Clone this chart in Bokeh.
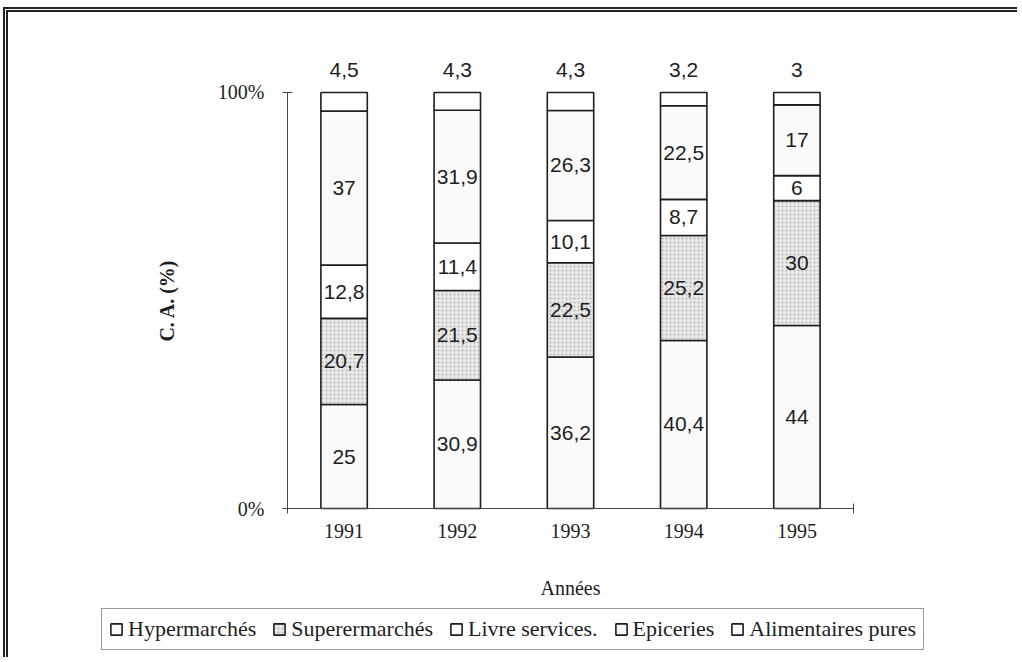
from bokeh.plotting import figure
from bokeh.models import ColumnDataSource, FixedTicker, Legend, LegendItem, InlineStyleSheet
from bokeh.core.properties import value
from bokeh.embed import file_html
from bokeh.resources import INLINE

years = ["1991", "1992", "1993", "1994", "1995"]
series = ["Hypermarchés", "Superermarchés", "Livre services.", "Epiceries", "Alimentaires pures"]
hyper = [25, 30.9, 36.2, 40.4, 44]
supermarches = [20.7, 21.5, 22.5, 25.2, 30]
livre = [12.8, 11.4, 10.1, 8.7, 6]
epiceries = [37, 31.9, 26.3, 22.5, 17]
alimentaires = [4.5, 4.3, 4.3, 3.2, 3]

all_vals = [hyper, supermarches, livre, epiceries, alimentaires]
fills = ["#fafafa", "#e8e8e8", "#ffffff", "#fafafa", "#ffffff"]
hatches = [" ", "dot", " ", " ", " "]
hatch_scales = [12, 4, 12, 12, 12]
hatch_colors = ["#e4e4e4", "#b4b4b4", "#e4e4e4", "#e4e4e4", "#e4e4e4"]

SERIF = "Liberation Serif"
SANS = "Liberation Sans"


def fmt(v):
    return f"{v:g}".replace(".", ",")


xs = [i + 0.5 for i in range(len(years))]
totals = [sum(vals[i] for vals in all_vals) for i in range(len(years))]

p = figure(width=1014, height=650, x_range=(-1.643, 5.689), y_range=(-34.6, 112.0),
           output_backend="svg", toolbar_location=None,
           min_border_left=93, min_border_right=91,
           min_border_top=30, min_border_bottom=10)
p.styles = {"margin-left": "3px", "margin-top": "7px",
            "border-left": "5px double #222", "border-top": "5px double #222"}
p.stylesheets = [InlineStyleSheet(css=(
    'text:not([font-family="Liberation Sans"]) '
    '{ font-family: "Liberation Serif", serif !important; }'))]
p.outline_line_color = None
p.grid.visible = False

bottoms = [0.0] * len(years)
items = []
for k, (name, vals) in enumerate(zip(series, all_vals)):
    pct = [v / t * 100 for v, t in zip(vals, totals)]
    tops = [b + q for b, q in zip(bottoms, pct)]
    mids = [(b + t) / 2 for b, t in zip(bottoms, tops)]
    src = ColumnDataSource(dict(x=xs, bottom=list(bottoms), top=tops, mid=mids,
                                lab=[fmt(v) for v in vals]))
    r = p.vbar(x="x", width=0.41, bottom="bottom", top="top", source=src,
               fill_color=fills[k], line_color="#1e1e1e", line_width=1.6,
               hatch_pattern=hatches[k], hatch_scale=hatch_scales[k],
               hatch_color=hatch_colors[k], hatch_weight=1.0)
    items.append(LegendItem(label=name, renderers=[r]))
    if k < len(series) - 1:
        p.text(x="x", y="mid", text="lab", source=src, text_font=value(SANS),
               text_font_size="21px", text_align="center", text_baseline="middle",
               text_color="#1e1e1e")
    else:
        p.text(x="x", y="top", text="lab", source=src, text_font=value(SANS),
               text_font_size="21px", text_align="center", text_baseline="middle",
               text_color="#1e1e1e", y_offset=-22)
    bottoms = tops

# axes
p.xaxis.fixed_location = 0
p.xaxis.bounds = (0, 5)
p.xaxis.ticker = FixedTicker(ticks=xs, minor_ticks=[0, 5])
p.xaxis.major_label_overrides = {x: y for x, y in zip(xs, years)}
p.xaxis.major_tick_in = 0
p.xaxis.major_tick_out = 0
p.xaxis.minor_tick_in = 5
p.xaxis.minor_tick_out = 5
p.xaxis.major_label_standoff = 10
p.xaxis.major_label_text_font = SERIF
p.xaxis.major_label_text_font_size = "20px"
p.xaxis.major_label_text_color = "#1e1e1e"
p.xaxis.axis_label = "Années"
p.xaxis.axis_label_text_font = SERIF
p.xaxis.axis_label_text_font_style = "normal"
p.xaxis.axis_label_text_font_size = "20px"
p.xaxis.axis_label_text_color = "#1e1e1e"
p.xaxis.axis_label_standoff = 36

p.yaxis.fixed_location = 0
p.yaxis.bounds = (0, 100)
p.yaxis.ticker = FixedTicker(ticks=[0, 100], minor_ticks=[])
p.yaxis.major_label_overrides = {0: "0%", 100: "100%"}
p.yaxis.major_tick_in = 5
p.yaxis.major_tick_out = 5
p.yaxis.minor_tick_in = 0
p.yaxis.minor_tick_out = 0
p.yaxis.major_label_standoff = 18
p.yaxis.major_label_text_font = SERIF
p.yaxis.major_label_text_font_size = "20px"
p.yaxis.major_label_text_color = "#1e1e1e"
p.yaxis.axis_label = "C. A. (%)"
p.yaxis.axis_label_text_font = SERIF
p.yaxis.axis_label_text_font_style = "bold"
p.yaxis.axis_label_text_font_size = "20px"
p.yaxis.axis_label_text_color = "#1e1e1e"
p.yaxis.axis_label_standoff = 37

for ax in (p.xaxis, p.yaxis):
    ax.axis_line_color = "#444444"
    ax.major_tick_line_color = "#444444"
    ax.minor_tick_line_color = "#444444"

legend = Legend(items=items, orientation="horizontal", location=(0, 2),
                glyph_width=14, glyph_height=14,
                spacing=16, label_standoff=5, padding=7, margin=0,
                border_line_color="#333333", border_line_width=1,
                background_fill_color="#ffffff", background_fill_alpha=1.0,
                label_text_font=SERIF, label_text_font_style="normal",
                label_text_font_size="22px", label_text_color="#1e1e1e")
p.add_layout(legend, "center")

open("out.html", "w").write(file_html(p, INLINE))
